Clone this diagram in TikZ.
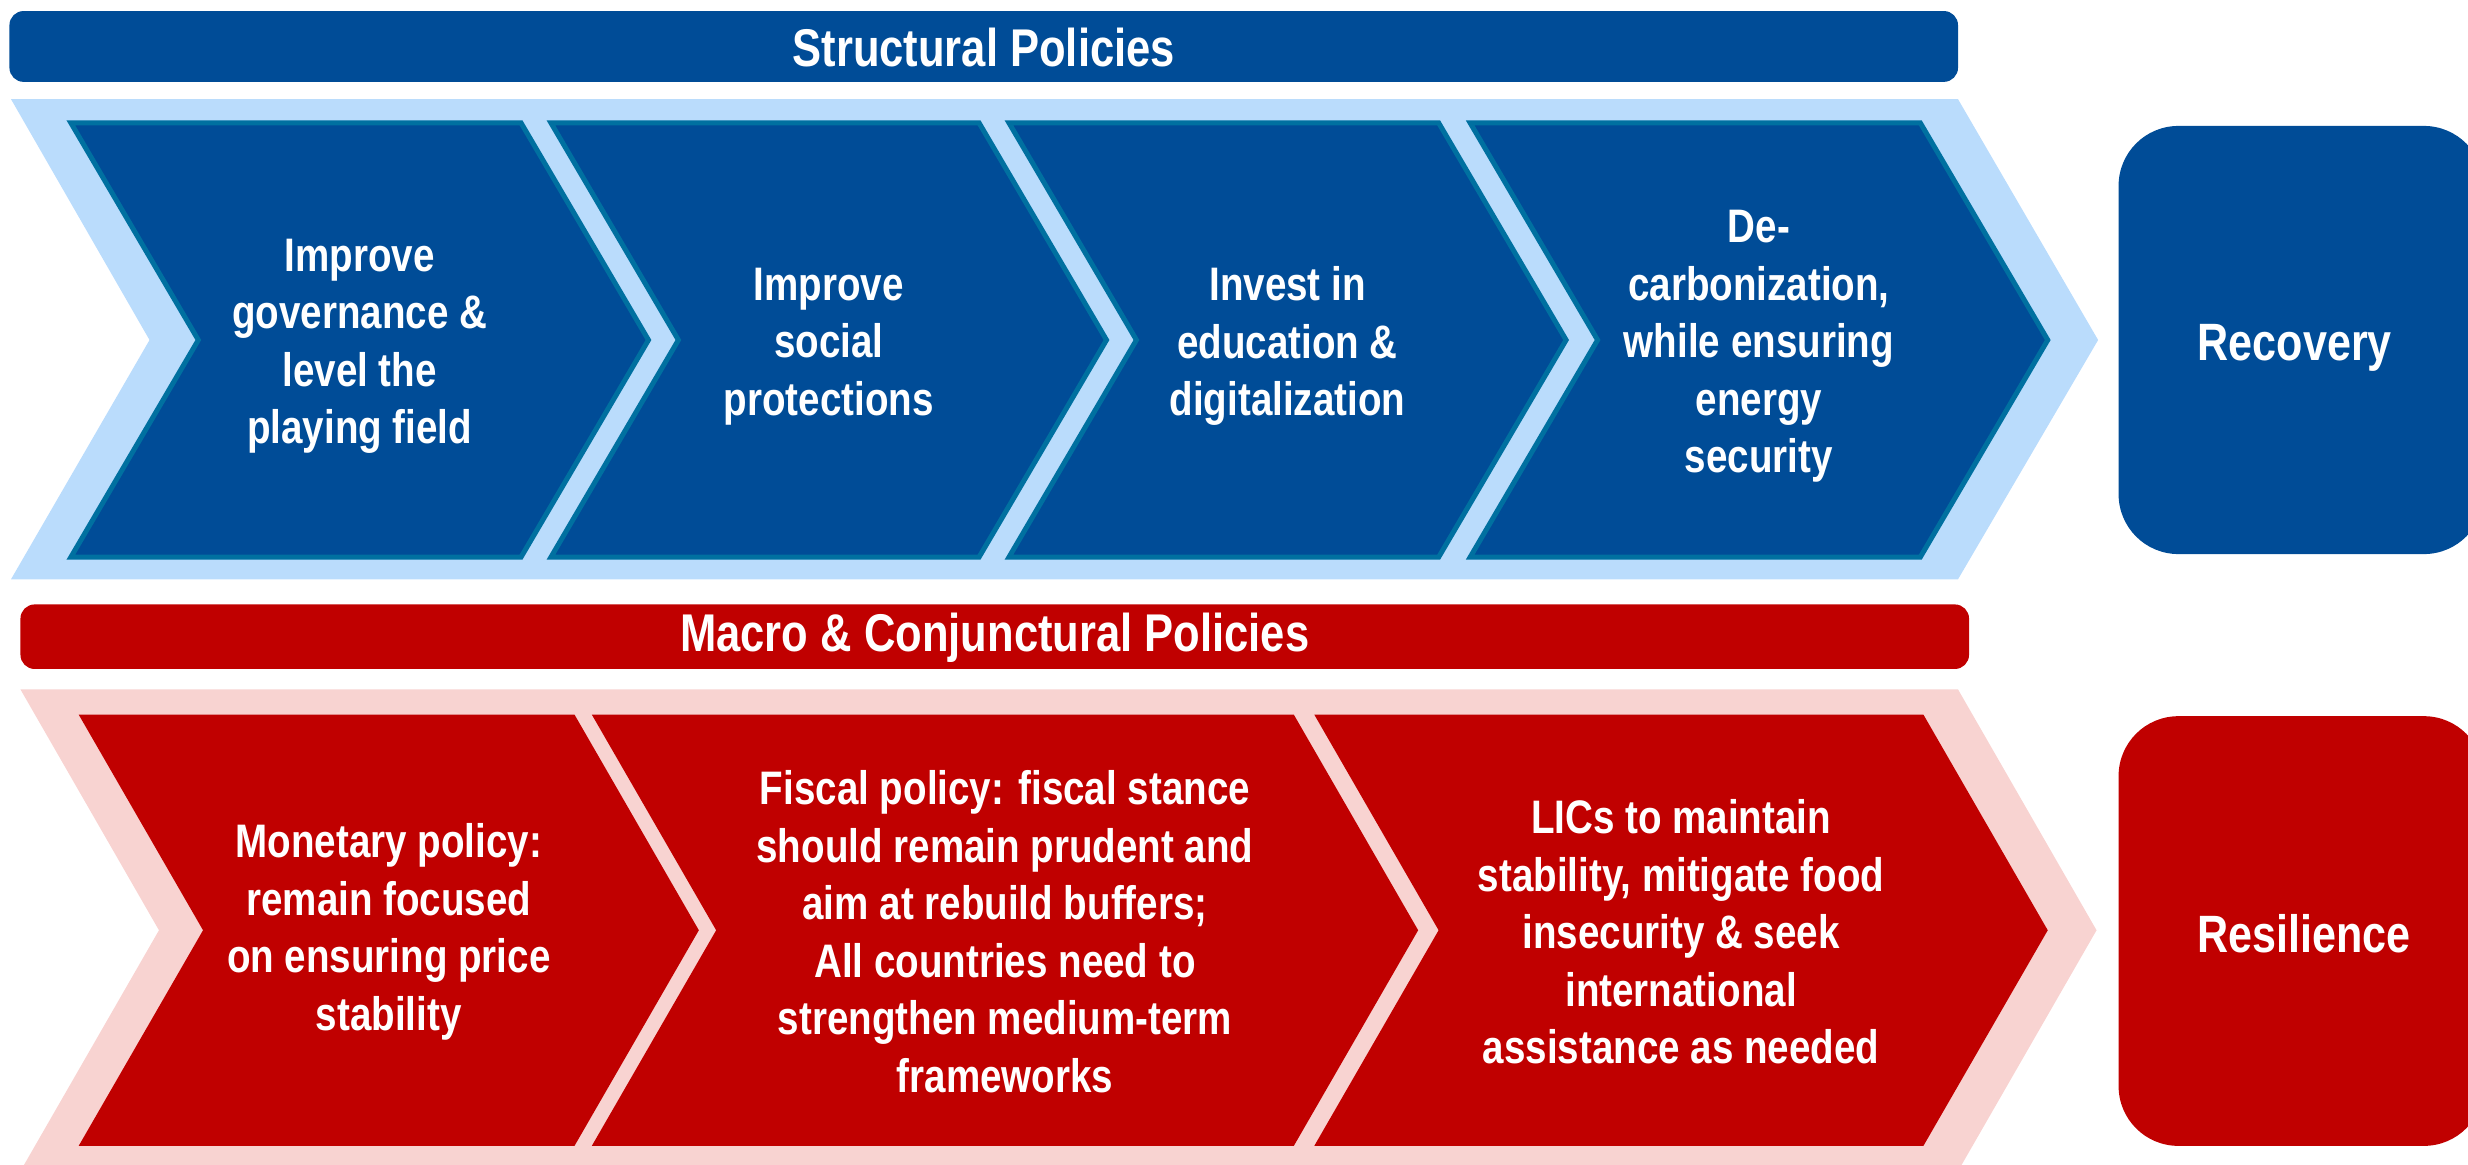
\documentclass[tikz,border=0pt]{standalone}
\usepackage{fontspec}
\setmainfont[FakeStretch=0.82]{Liberation Sans}

\definecolor{imfblue}{RGB}{0,76,151}
\definecolor{lightband}{RGB}{186,220,252}
\definecolor{chevedge}{RGB}{0,112,160}
\definecolor{imfred}{RGB}{192,0,0}
\definecolor{pinkband}{RGB}{248,211,209}

\tikzset{
  boxtext/.style={text=white, align=center, font=\bfseries\fontsize{8.5}{10.4}\selectfont},
  headtext/.style={text=white, font=\bfseries\fontsize{9.6}{11.5}\selectfont},
  goaltext/.style={text=white, font=\bfseries\fontsize{9.5}{11.5}\selectfont},
}

\begin{document}
\begin{tikzpicture}[x=0.1mm, y=-0.1mm]
    \useasboundingbox (0,0) rectangle (1568,740);

    % Structural policies: header bar and band
    \fill[imfblue, rounded corners=0.9mm] (6,7) rectangle (1244,52);
    \node[headtext] (structhead) at (625,30) {Structural Policies};
    \fill[lightband] (7,63) -- (1244,63) -- (1333,216) -- (1244,368) -- (7,368) -- (95,216) -- cycle;

    % chevrons (left edge / right edge / index / text)
    \foreach \l/\r/\n/\txt in {
        45/331/1/{Improve\\governance \&\\level the\\playing field},
        350/622/2/{Improve\\social\\protections},
        641/914/3/{Invest in\\education \&\\digitalization},
        934/1220/4/{De-\\carbonization,\\while ensuring\\energy\\security}} {
        \filldraw[fill=imfblue, draw=chevedge, line width=0.9pt]
            (\l,78) -- (\r,78) -- (\r+81,216) -- (\r,354) -- (\l,354) -- (\l+81,216) -- cycle;
        \node[boxtext] (struct\n) at ({(\l+81+\r)/2},220) {\txt};
    }

    % goal box
    \fill[imfblue, rounded corners=3.8mm] (1346,80) rectangle (1578,352);
    \node[goaltext] (recovery) at (1458,221) {Recovery};

    % Macro & conjunctural policies: header bar and band
    \fill[imfred, rounded corners=0.9mm] (13,384) rectangle (1251,425);
    \node[headtext] (macrohead) at (632,405) {Macro \& Conjunctural Policies};
    \fill[pinkband] (13,438) -- (1244,438) -- (1332,591) -- (1244,744) -- (13,744) -- (101,591) -- cycle;

    \foreach \l/\r/\n/\txt in {
        50/365/1/{Monetary policy:\\remain focused\\on ensuring price\\stability},
        376/822/2/{Fiscal policy: fiscal stance\\should remain prudent and\\aim at rebuild buffers;\\All countries need to\\strengthen medium-term\\frameworks},
        835/1222/3/{LICs to maintain\\stability, mitigate food\\insecurity \& seek\\international\\assistance as needed}} {
        \fill[imfred]
            (\l,454) -- (\r,454) -- (\r+79,591) -- (\r,728) -- (\l,728) -- (\l+79,591) -- cycle;
        \node[boxtext] (macro\n) at ({(\l+79+\r)/2},592) {\txt};
    }

    % goal box
    \fill[imfred, rounded corners=3.8mm] (1346,455) rectangle (1578,728);
    \node[goaltext] (resilience) at (1464,593) {Resilience};
\end{tikzpicture}
\end{document}
